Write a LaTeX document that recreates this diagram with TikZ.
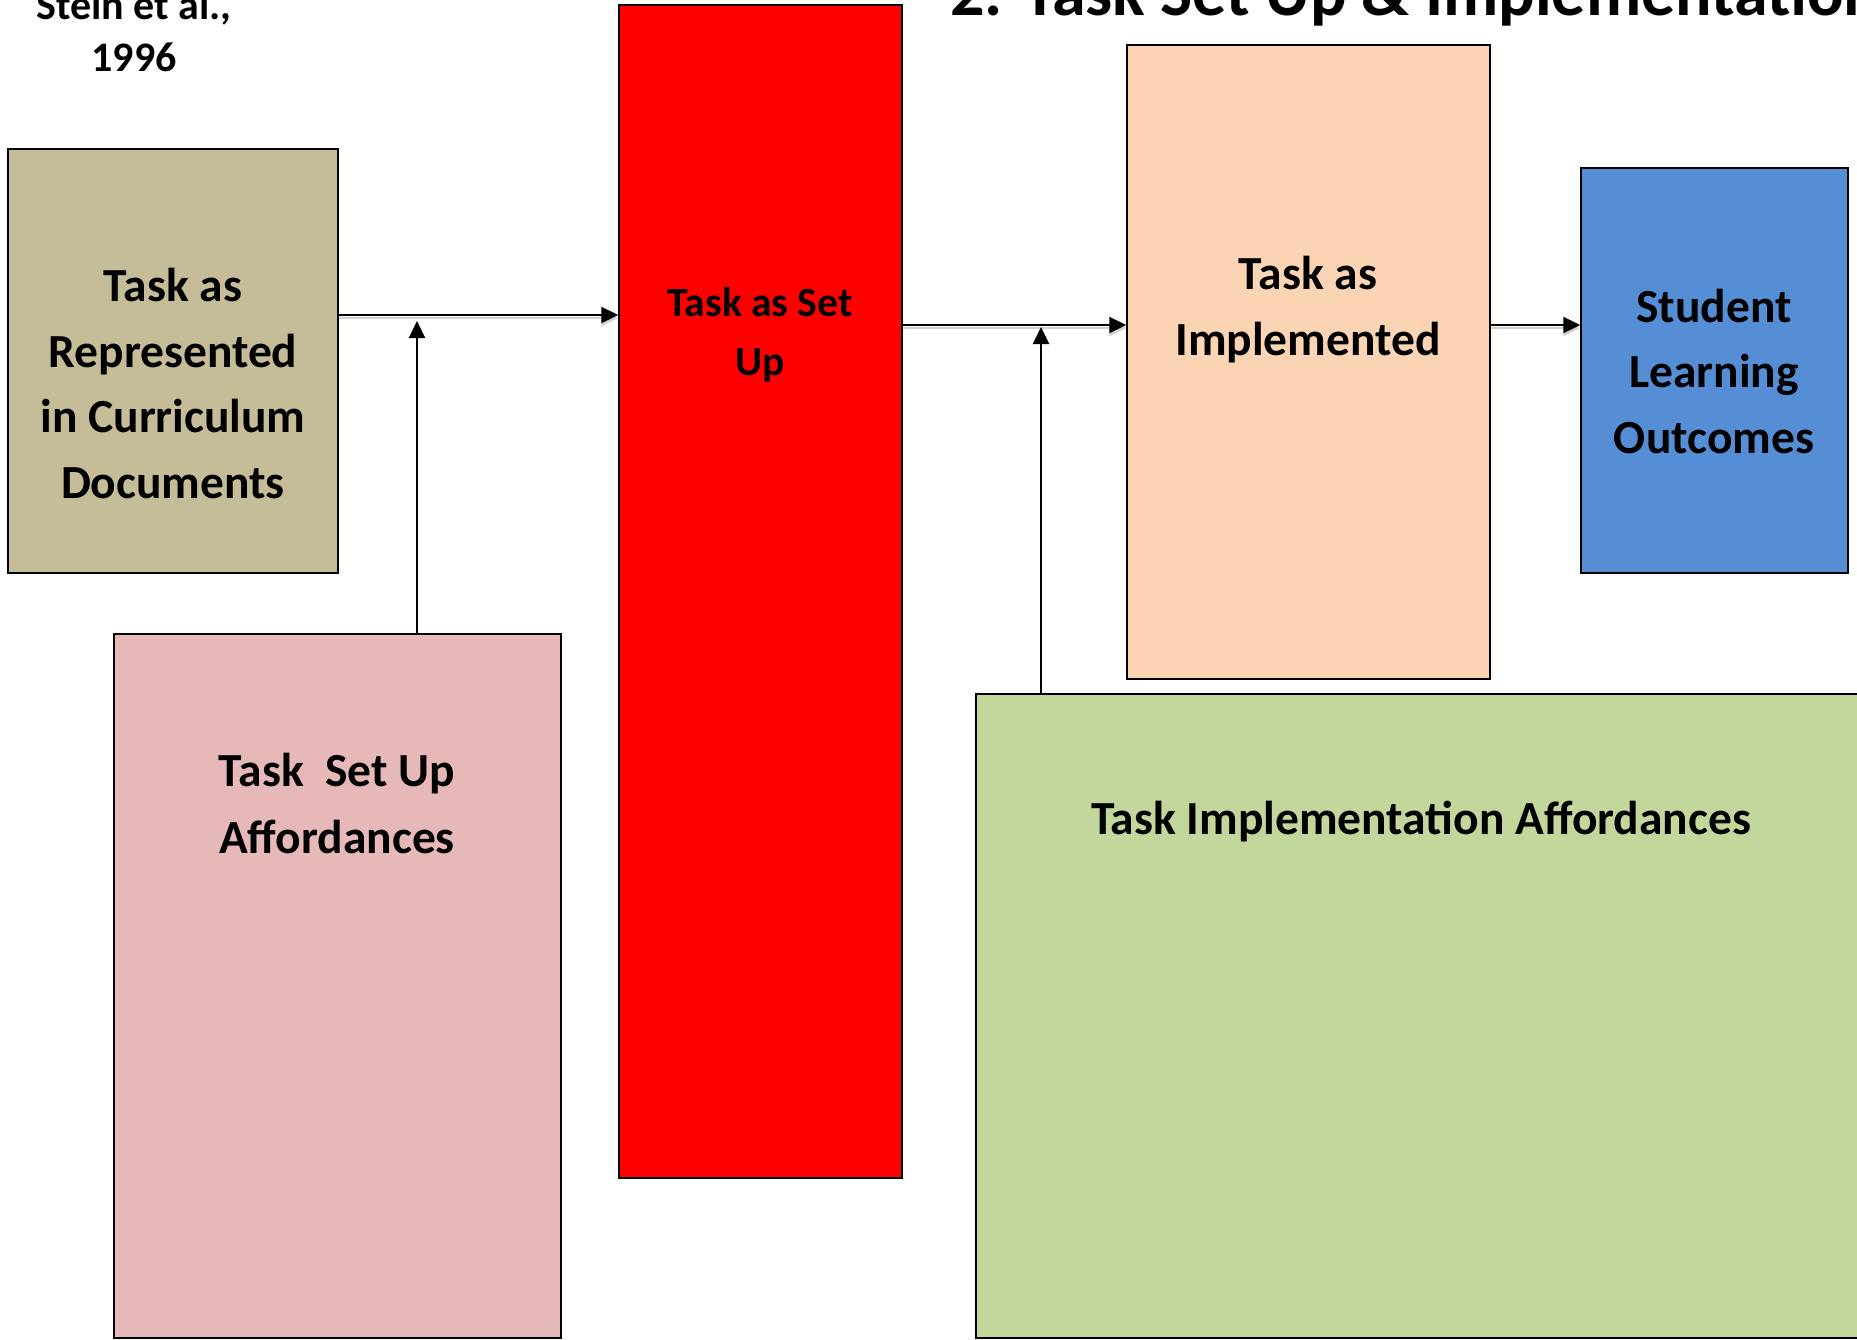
\documentclass[tikz,border=0pt]{standalone}
\usepackage{fontspec}
\setmainfont{Carlito}
\usetikzlibrary{arrows.meta}
\definecolor{tanfill}{HTML}{C4BD97}
\definecolor{setupred}{HTML}{FF0000}
\definecolor{peachfill}{HTML}{FBD4B4}
\definecolor{bluefill}{HTML}{558ED5}
\definecolor{pinkfill}{HTML}{E6B9B8}
\definecolor{greenfill}{HTML}{C3D69B}
\begin{document}
\begin{tikzpicture}[x=0.5pt,y=-0.5pt,
  box/.style={draw=black, line width=0.75pt, inner sep=0pt},
  % multi-line labels are placed by the baseline of their last line
  lbl/.style={align=center, inner sep=0pt, anchor=base, font=\bfseries\fontsize{23.75}{32.75}\selectfont},
  tip/.style={-{Triangle[length=8.5pt,width=8pt]}},
  flow/.style={line width=1.1pt, tip, preaction={draw=black!18, line width=1.3pt, transform canvas={yshift=-1.5pt}}},
  rise/.style={line width=1.1pt, tip},
]
\useasboundingbox (0,0) rectangle (1857,1339);
\clip (0,0) rectangle (1857,1339);

% header texts
\node[anchor=base west, inner sep=0pt, font=\bfseries\fontsize{34}{41}\selectfont] (title) at (950,15) {2. Task Set Up \& Implementation};
\node[lbl, font=\bfseries\fontsize{21}{26}\selectfont] (cite) at (134,71) {Stein et al.,\\1996};

% boxes
\node[box, fill=tanfill, minimum width=165pt, minimum height=212pt] (tan) at (173,361) {};
\node[box, fill=setupred, minimum width=141.5pt, minimum height=586.5pt] (red) at (760.5,591.5) {};
\node[box, fill=peachfill, minimum width=181.5pt, minimum height=317pt] (peach) at (1308.5,362) {};
\node[box, fill=bluefill, minimum width=133.5pt, minimum height=202.5pt] (blue) at (1714.5,370.5) {};
\node[box, fill=pinkfill, minimum width=223.5pt, minimum height=352pt] (pink) at (337.5,986) {};
\node[box, fill=greenfill, minimum width=445pt, minimum height=322pt] (green) at (1421,1016) {};

% box labels
\node[lbl] (tanlbl) at (173,498) {Task as\\Represented\\in Curriculum\\Documents};
\node[lbl, font=\bfseries\fontsize{20.8}{29.3}\selectfont] (redlbl) at (760,375) {Task as Set\\Up};
\node[lbl] (peachlbl) at (1308,355) {Task as\\Implemented};
\node[lbl] (bluelbl) at (1714,453) {Student\\Learning\\Outcomes};
\node[lbl, font=\bfseries\fontsize{23.75}{33.5}\selectfont] (pinklbl) at (337,853) {Task\ \ Set Up\\Affordances};
\node[lbl] (greenlbl) at (1421,834) {Task Implementation Affordances};

% connectors
\coordinate (r1) at (0,315);
\coordinate (r2) at (0,325);
\coordinate (t1) at (417,321);
\coordinate (t2) at (1041,327);
\draw[flow] (tan.east |- r1) -- (red.west |- r1);
\draw[flow] (red.east |- r2) -- (peach.west |- r2);
\draw[flow] (peach.east |- r2) -- (blue.west |- r2);
\draw[rise] (pink.north -| t1) -- (t1);
\draw[rise] (green.north -| t2) -- (t2);
\end{tikzpicture}
\end{document}
